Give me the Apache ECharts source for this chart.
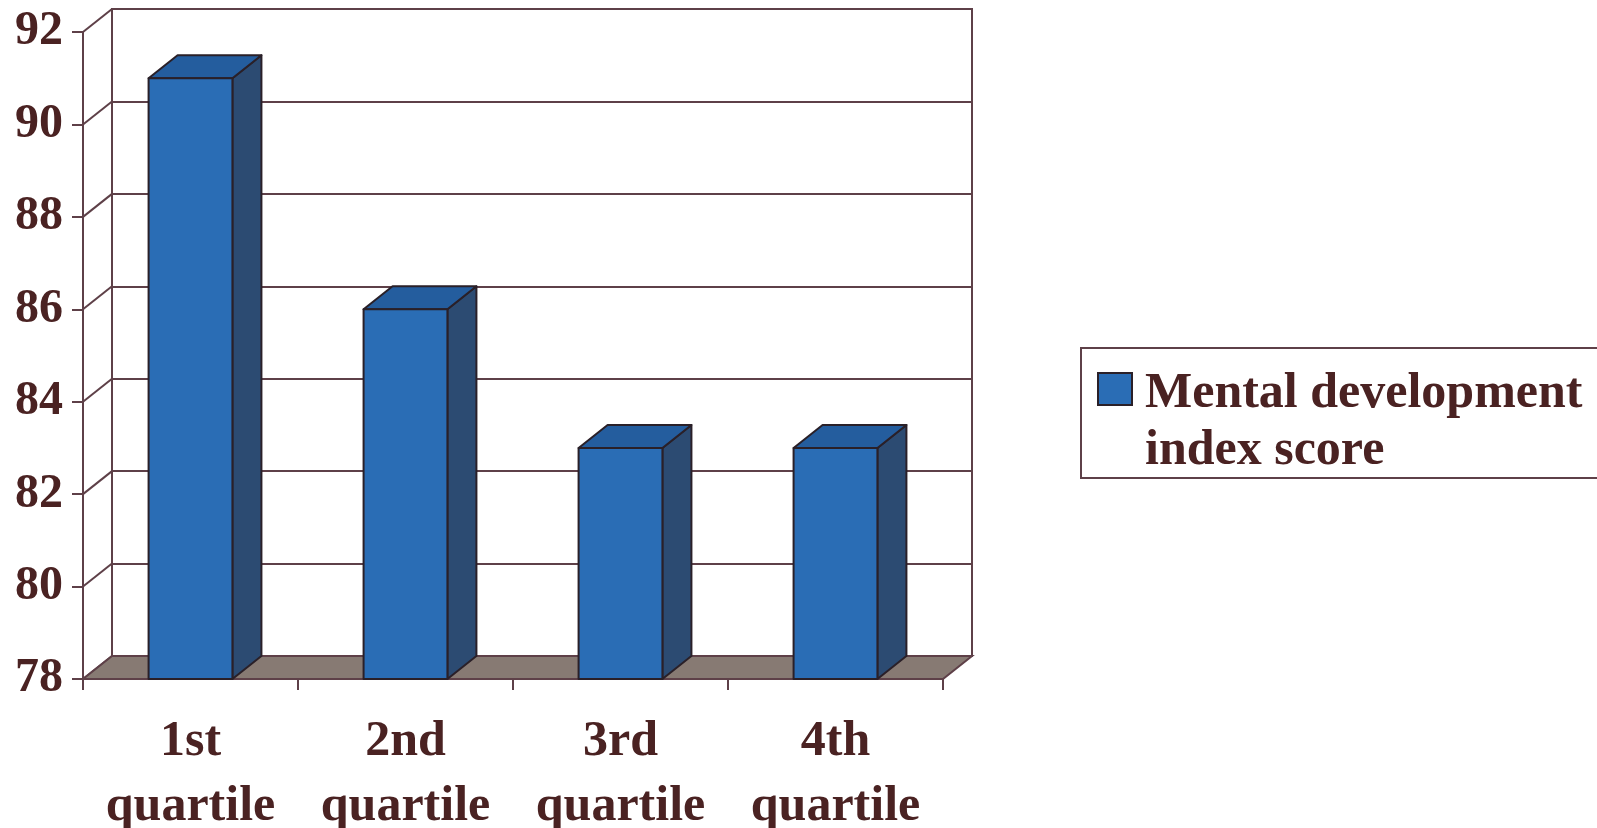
<!DOCTYPE html>
<html lang="en">
<head>
    <meta charset="UTF-8">
    <title>Mental development index score</title>
    <style>
        html, body { margin: 0; padding: 0; background: #fff; }
        #main { width: 1597px; height: 828px; }
    </style>
</head>
<body>
<div id="main"></div>

<script src="https://cdn.jsdelivr.net/npm/echarts@6/dist/echarts.min.js"></script>
<script>
    var categories = ['1st\nquartile', '2nd\nquartile', '3rd\nquartile', '4th\nquartile'];
    var scores = [91, 86, 83, 83];
    var yTicks = [78, 80, 82, 84, 86, 88, 90, 92];
    var seriesName = 'Mental development index score';

    var textColor = '#4a2222';
    var lineColor = '#5e4048';
    var font = '"Liberation Serif", "Times New Roman", serif';
    // depth of the 3d box
    var dx = 29, dy = -23;

    var chartDom = document.getElementById('main');
    var myChart = echarts.init(chartDom);
    var option;

    option = {
        backgroundColor: '#fff',
        animation: false,
        grid: [
            { left: 83, right: 654, top: 32, bottom: 149, outerBoundsMode: 'none', containLabel: false },
            // back wall
            { left: 83 + dx, right: 654 - dx, top: 32 + dy, bottom: 149 - dy, outerBoundsMode: 'none',
              show: true, borderColor: lineColor, borderWidth: 2, backgroundColor: '#fff' }
        ],
        xAxis: [
            {
                type: 'category', gridIndex: 0, data: categories,
                axisLine: { show: true, lineStyle: { color: lineColor, width: 2 } },
                axisTick: { show: true, interval: 0, alignWithLabel: false, length: 11, lineStyle: { color: lineColor, width: 2 } },
                axisLabel: {
                    interval: 0, hideOverlap: false,
                    color: textColor, fontFamily: font, fontWeight: 'bold',
                    fontSize: 50, lineHeight: 65, margin: 31
                }
            },
            { type: 'category', gridIndex: 1, data: categories, show: false }
        ],
        yAxis: [
            {
                type: 'value', gridIndex: 0, min: 78, max: 92, interval: 2,
                axisLine: { show: true, lineStyle: { color: lineColor, width: 2 } },
                axisTick: { show: true, length: 11, lineStyle: { color: lineColor, width: 2 } },
                splitLine: { show: false },
                axisLabel: {
                    color: textColor, fontFamily: font, fontWeight: 'bold',
                    fontSize: 48, margin: 20
                }
            },
            {
                type: 'value', gridIndex: 1, min: 78, max: 92, interval: 2,
                axisLine: { show: false }, axisTick: { show: false }, axisLabel: { show: false },
                splitLine: { show: true, lineStyle: { color: lineColor, width: 2 } }
            }
        ],
        series: [
            {
                // left wall diagonals
                type: 'custom', xAxisIndex: 0, yAxisIndex: 0, silent: true, z: 2,
                data: yTicks.map(function (v) { return [0, v]; }),
                encode: { x: 0, y: 1 },
                renderItem: function (params, api) {
                    var cs = params.coordSys;
                    var p = api.coord([0, api.value(1)]);
                    return {
                        type: 'line',
                        shape: { x1: cs.x, y1: p[1], x2: cs.x + dx, y2: p[1] + dy },
                        style: { stroke: lineColor, lineWidth: 2 }
                    };
                }
            },
            {
                // floor
                type: 'custom', xAxisIndex: 0, yAxisIndex: 0, silent: true, z: 3,
                data: [[0, 78]],
                encode: { x: 0, y: 1 },
                renderItem: function (params, api) {
                    var cs = params.coordSys;
                    var y = api.coord([0, 78])[1];
                    var x1 = cs.x, x2 = cs.x + cs.width;
                    return {
                        type: 'polygon',
                        shape: { points: [[x1, y], [x2, y], [x2 + dx, y + dy], [x1 + dx, y + dy]] },
                        style: { fill: '#877a73', stroke: lineColor, lineWidth: 2 }
                    };
                }
            },
            {
                name: seriesName,
                type: 'custom', xAxisIndex: 0, yAxisIndex: 0, z: 4,
                data: scores.map(function (v, i) { return [i, v]; }),
                encode: { x: 0, y: 1 },
                renderItem: function (params, api) {
                    var i = api.value(0);
                    var top = api.coord([i, api.value(1)]);
                    var base = api.coord([i, 78]);
                    var w = api.size([1, 0])[0] * 0.39;
                    var x0 = top[0] - w / 2, x1 = x0 + w;
                    var yt = top[1], yb = base[1];
                    var edge = { stroke: '#2a2028', lineWidth: 2, lineJoin: 'round' };
                    return {
                        type: 'group',
                        children: [
                            {
                                type: 'polygon',
                                shape: { points: [[x1, yt], [x1, yb], [x1 + dx, yb + dy], [x1 + dx, yt + dy]] },
                                style: Object.assign({ fill: '#2c4b72' }, edge)
                            },
                            {
                                type: 'polygon',
                                shape: { points: [[x0, yt], [x1, yt], [x1 + dx, yt + dy], [x0 + dx, yt + dy]] },
                                style: Object.assign({ fill: '#245d9e' }, edge)
                            },
                            {
                                type: 'rect',
                                shape: { x: x0, y: yt, width: w, height: yb - yt },
                                style: Object.assign({ fill: '#2a6db5' }, edge)
                            }
                        ]
                    };
                }
            }
        ],
        graphic: [
            {
                type: 'group', left: 1080, top: 347,
                children: [
                    { type: 'rect', shape: { x: 0, y: 0, width: 540, height: 130 },
                      style: { fill: '#fff', stroke: lineColor, lineWidth: 2 } },
                    { type: 'rect', shape: { x: 17, y: 25, width: 34, height: 32 },
                      style: { fill: '#2a6db5', stroke: '#2a2028', lineWidth: 2 } },
                    { type: 'text', x: 64, y: 46,
                      style: { text: 'Mental development', fill: textColor, font: 'bold 50px ' + font,
                               verticalAlign: 'middle' } },
                    { type: 'text', x: 64, y: 103,
                      style: { text: 'index score', fill: textColor, font: 'bold 50px ' + font,
                               verticalAlign: 'middle' } }
                ]
            }
        ]
    };

    option && myChart.setOption(option);
</script>
</body>
</html>
